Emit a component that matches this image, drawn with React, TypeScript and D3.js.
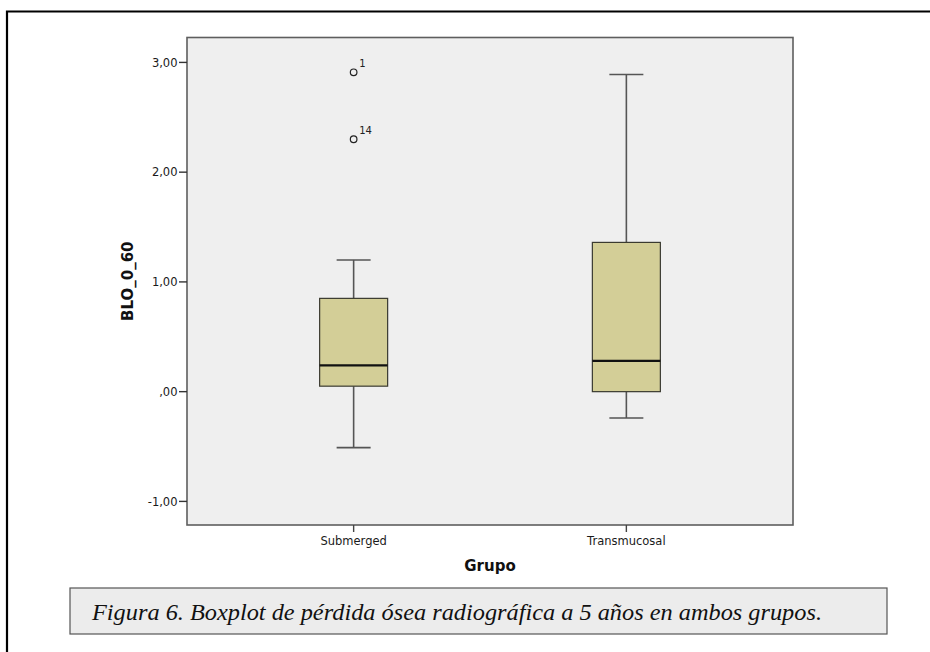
import { useEffect, useRef } from "react";
import * as d3 from "d3";

const groups = ["Submerged", "Transmucosal"];
const lowerWhisker = [-0.51, -0.24];
const q1 = [0.05, 0.0];
const medians = [0.24, 0.28];
const q3 = [0.85, 1.36];
const upperWhisker = [1.2, 2.89];
const outlierGroups = ["Submerged", "Submerged"];
const outlierValues = [2.91, 2.3];
const outlierIds = ["1", "14"];
const yTicks = [-1, 0, 1, 2, 3];
const yTickLabels = ["-1,00", ",00", "1,00", "2,00", "3,00"];
const yDomain = [-1.215, 3.227];

const caption = "Figura 6. Boxplot de pérdida ósea radiográfica a 5 años en ambos grupos.";

export default function App() {
  const ref = useRef<SVGSVGElement | null>(null);

  useEffect(() => {
    if (!ref.current) return;
    const svg = d3.select(ref.current);
    svg.selectAll("*").remove();

    const plot = { left: 187, right: 793, top: 37.5, bottom: 525 };
    const x = d3.scalePoint().domain(groups).range([plot.left, plot.right]).padding(0.611);
    const y = d3.scaleLinear().domain(yDomain).range([plot.bottom, plot.top]);
    const font = "'DejaVu Sans', Verdana, sans-serif";

    // page frame
    svg.append("rect").attr("width", 930).attr("height", 652).attr("fill", "#fff");
    svg
      .append("path")
      .attr("d", "M7,660 L7,11.5 L935,11.5")
      .attr("fill", "none")
      .attr("stroke", "#000")
      .attr("stroke-width", 2.2);

    // plot background
    svg
      .append("rect")
      .attr("x", plot.left)
      .attr("y", plot.top)
      .attr("width", plot.right - plot.left)
      .attr("height", plot.bottom - plot.top)
      .attr("fill", "#efefef")
      .attr("stroke", "#5e5e5e")
      .attr("stroke-width", 1.6);

    // y axis
    const yAxis = svg.append("g");
    yTicks.forEach((t, i) => {
      yAxis
        .append("line")
        .attr("x1", plot.left - 8)
        .attr("x2", plot.left)
        .attr("y1", y(t))
        .attr("y2", y(t))
        .attr("stroke", "#333")
        .attr("stroke-width", 1.4);
      yAxis
        .append("text")
        .attr("x", plot.left - 9.5)
        .attr("y", y(t))
        .attr("dy", "0.36em")
        .attr("text-anchor", "end")
        .attr("font-family", font)
        .attr("font-size", 11.5)
        .attr("fill", "#1a1a1a")
        .text(yTickLabels[i]);
    });

    svg
      .append("text")
      .attr("transform", `translate(133,${(plot.top + plot.bottom) / 2}) rotate(-90)`)
      .attr("text-anchor", "middle")
      .attr("font-family", font)
      .attr("font-weight", "bold")
      .attr("font-size", 15)
      .attr("fill", "#111")
      .text("BLO_0_60");

    // x axis
    groups.forEach((g) => {
      svg
        .append("line")
        .attr("x1", x(g)!)
        .attr("x2", x(g)!)
        .attr("y1", plot.bottom)
        .attr("y2", plot.bottom + 7)
        .attr("stroke", "#444")
        .attr("stroke-width", 1.4);
      svg
        .append("text")
        .attr("x", x(g)!)
        .attr("y", plot.bottom + 20)
        .attr("text-anchor", "middle")
        .attr("font-family", font)
        .attr("font-size", 11.5)
        .attr("fill", "#1a1a1a")
        .text(g);
    });

    svg
      .append("text")
      .attr("x", (plot.left + plot.right) / 2)
      .attr("y", 571)
      .attr("text-anchor", "middle")
      .attr("font-family", font)
      .attr("font-weight", "bold")
      .attr("font-size", 15)
      .attr("fill", "#111")
      .text("Grupo");

    // boxes
    const half = 34;
    const cap = 17;
    groups.forEach((g, i) => {
      const cx = x(g)!;
      const box = svg.append("g");
      box
        .append("line")
        .attr("x1", cx)
        .attr("x2", cx)
        .attr("y1", y(upperWhisker[i]))
        .attr("y2", y(q3[i]))
        .attr("stroke", "#555")
        .attr("stroke-width", 1.6);
      box
        .append("line")
        .attr("x1", cx)
        .attr("x2", cx)
        .attr("y1", y(q1[i]))
        .attr("y2", y(lowerWhisker[i]))
        .attr("stroke", "#555")
        .attr("stroke-width", 1.6);
      [upperWhisker[i], lowerWhisker[i]].forEach((v) => {
        box
          .append("line")
          .attr("x1", cx - cap)
          .attr("x2", cx + cap)
          .attr("y1", y(v))
          .attr("y2", y(v))
          .attr("stroke", "#555")
          .attr("stroke-width", 1.6);
      });
      box
        .append("rect")
        .attr("x", cx - half)
        .attr("y", y(q3[i]))
        .attr("width", half * 2)
        .attr("height", y(q1[i]) - y(q3[i]))
        .attr("fill", "#d3ce97")
        .attr("stroke", "#3a3a30")
        .attr("stroke-width", 1.2);
      box
        .append("line")
        .attr("x1", cx - half)
        .attr("x2", cx + half)
        .attr("y1", y(medians[i]))
        .attr("y2", y(medians[i]))
        .attr("stroke", "#111")
        .attr("stroke-width", 2.2);
    });

    // outliers
    outlierValues.forEach((v, i) => {
      const cx = x(outlierGroups[i])!;
      svg
        .append("circle")
        .attr("cx", cx)
        .attr("cy", y(v))
        .attr("r", 3.3)
        .attr("fill", "none")
        .attr("stroke", "#222")
        .attr("stroke-width", 1.2);
      svg
        .append("text")
        .attr("x", cx + 5.5)
        .attr("y", y(v) - 5)
        .attr("font-family", font)
        .attr("font-size", 10)
        .attr("fill", "#222")
        .text(outlierIds[i]);
    });

    // caption
    svg
      .append("rect")
      .attr("x", 70)
      .attr("y", 588)
      .attr("width", 817)
      .attr("height", 46)
      .attr("fill", "#ececec")
      .attr("stroke", "#555")
      .attr("stroke-width", 1.2);
    svg
      .append("text")
      .attr("x", 92)
      .attr("y", 620)
      .attr("font-family", "'Liberation Serif', 'DejaVu Serif', serif")
      .attr("font-style", "italic")
      .attr("font-size", 23)
      .attr("textLength", 730)
      .attr("lengthAdjust", "spacingAndGlyphs")
      .attr("fill", "#111")
      .text(caption);
  }, []);

  return (
    <svg
      ref={ref}
      width={930}
      height={652}
      style={{ position: "absolute", left: 0, top: 0 }}
    />
  );
}
